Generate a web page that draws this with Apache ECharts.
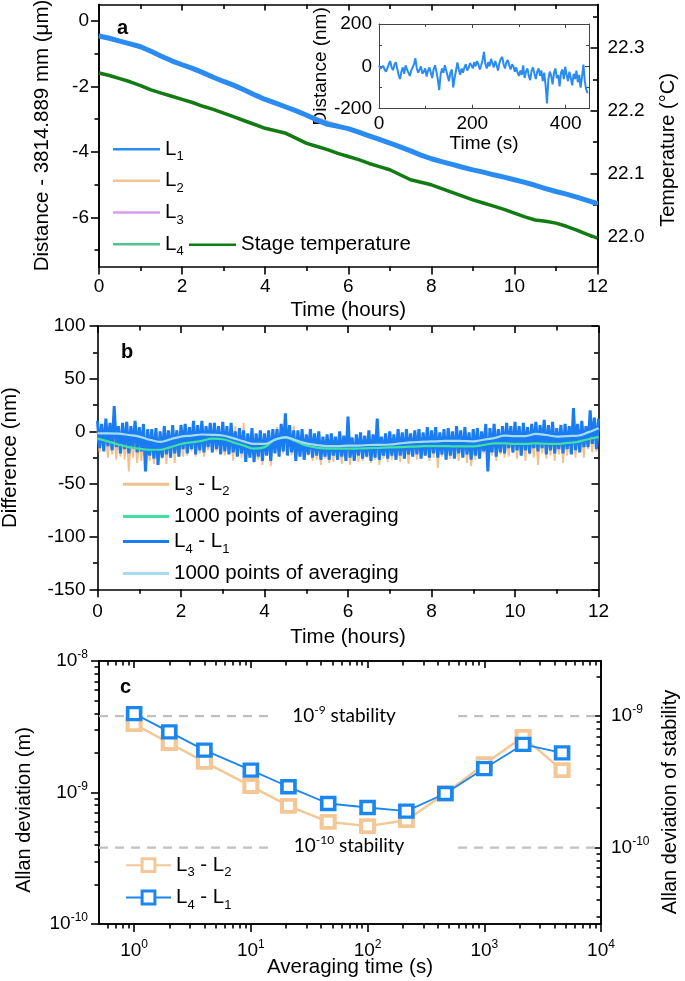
<!DOCTYPE html>
<html><head><meta charset="utf-8">
<script src="https://cdn.jsdelivr.net/npm/echarts@6/dist/echarts.min.js"></script>
<style>html,body{margin:0;padding:0;background:#fff}#c{width:685px;height:981px}</style>
</head><body><div id="c"></div>
<script>
// ---------------- Panel a : drift over 12 h ----------------
const hoursA = [0,0.25,0.5,0.75,1,1.25,1.5,1.75,2,2.25,2.5,2.75,3,3.25,3.5,3.75,4,4.25,4.5,4.75,5,5.25,5.5,5.75,6,6.25,6.5,6.75,7,7.25,7.5,7.75,8,8.25,8.5,8.75,9,9.25,9.5,9.75,10,10.25,10.5,10.75,11,11.25,11.5,11.75,12];
const distL1 = [-0.46,-0.53,-0.62,-0.70,-0.79,-0.93,-1.08,-1.22,-1.34,-1.45,-1.58,-1.72,-1.85,-1.97,-2.11,-2.26,-2.40,-2.51,-2.63,-2.75,-2.88,-3.03,-3.16,-3.22,-3.29,-3.40,-3.51,-3.62,-3.73,-3.85,-3.97,-4.10,-4.21,-4.30,-4.38,-4.47,-4.55,-4.62,-4.70,-4.77,-4.85,-4.93,-5.02,-5.12,-5.21,-5.29,-5.38,-5.48,-5.58];
const stageTemp = [22.260,22.256,22.251,22.246,22.240,22.233,22.228,22.223,22.218,22.213,22.207,22.202,22.196,22.190,22.184,22.178,22.172,22.168,22.164,22.156,22.148,22.143,22.138,22.132,22.127,22.122,22.116,22.111,22.106,22.098,22.090,22.086,22.082,22.076,22.070,22.064,22.058,22.053,22.048,22.043,22.037,22.031,22.026,22.024,22.021,22.016,22.010,22.003,21.997];
const hoursCoarse = [0,1,2,3,4,5,6,7,8,9,10,11,12];
const distL2 = [-0.44,-0.77,-1.32,-1.83,-2.38,-2.86,-3.27,-3.71,-4.19,-4.53,-4.83,-5.19,-5.56];
const distL3 = [-0.46,-0.79,-1.34,-1.85,-2.40,-2.88,-3.29,-3.73,-4.21,-4.55,-4.85,-5.21,-5.58];
const distL4 = [-0.47,-0.80,-1.35,-1.86,-2.41,-2.89,-3.30,-3.74,-4.22,-4.56,-4.86,-5.22,-5.59];
// inset (first seconds, nm)
const insetTime = [0,3,6,9,12,15,18,21,24,27,30,33,36,39,42,45,48,51,54,57,60,63,66,69,72,75,78,81,84,87,90,93,96,99,102,105,108,111,114,117,120,123,126,129,132,135,138,141,144,147,150,153,156,159,162,165,168,171,174,177,180,183,186,189,192,195,198,201,204,207,210,213,216,219,222,225,228,231,234,237,240,243,246,249,252,255,258,261,264,267,270,273,276,279,282,285,288,291,294,297,300,303,306,309,312,315,318,321,324,327,330,333,336,339,342,345,348,351,354,357,360,363,366,369,372,375,378,381,384,387,390,393,396,399,402,405,408,411,414,417,420,423,426,429,432,435,438,441,444,447];
const insetDist = [5,-12,-20,2,-15,-25,-8,10,25,-5,-18,8,20,-10,-40,-60,-25,-5,-35,5,-15,-30,-45,-20,-5,10,38,-10,-30,-15,0,-35,-25,-10,-48,-20,-5,-30,-55,-15,5,-25,-60,-112,-40,-10,-30,5,-20,-45,-70,-30,-15,-100,-55,-20,19,-15,-40,-10,-30,-5,10,-20,-8,15,5,-10,20,0,25,10,-15,5,30,69,10,-10,20,0,35,15,-5,25,5,-20,15,35,45,10,-10,20,30,5,-15,10,0,-25,-5,-30,-45,-20,-40,5,-55,-25,-10,-45,-65,-20,-5,-35,-60,-25,-10,-45,-20,-70,-30,-90,-175,-60,-25,-45,-85,-30,-10,-55,-40,-95,-30,-15,-60,-2,-40,-70,-25,-55,-90,-35,-60,-20,-75,-40,-100,-50,8,-70,-110,-127];

// ---------------- Panel b : differences ----------------
const hoursB = [
0,0.05,0.1,0.15,0.2,0.25,0.3,0.35,0.4,0.45,0.5,0.55,0.6,0.65,0.7,0.75,0.8,0.85,0.9,0.95,
1,1.05,1.1,1.15,1.2,1.25,1.3,1.35,1.4,1.45,1.5,1.55,1.6,1.65,1.7,1.75,1.8,1.85,1.9,1.95,
2,2.05,2.1,2.15,2.2,2.25,2.3,2.35,2.4,2.45,2.5,2.55,2.6,2.65,2.7,2.75,2.8,2.85,2.9,2.95,
3,3.05,3.1,3.15,3.2,3.25,3.3,3.35,3.4,3.45,3.5,3.55,3.6,3.65,3.7,3.75,3.8,3.85,3.9,3.95,
4,4.05,4.1,4.15,4.2,4.25,4.3,4.35,4.4,4.45,4.5,4.55,4.6,4.65,4.7,4.75,4.8,4.85,4.9,4.95,
5,5.05,5.1,5.15,5.2,5.25,5.3,5.35,5.4,5.45,5.5,5.55,5.6,5.65,5.7,5.75,5.8,5.85,5.9,5.95,
6,6.05,6.1,6.15,6.2,6.25,6.3,6.35,6.4,6.45,6.5,6.55,6.6,6.65,6.7,6.75,6.8,6.85,6.9,6.95,
7,7.05,7.1,7.15,7.2,7.25,7.3,7.35,7.4,7.45,7.5,7.55,7.6,7.65,7.7,7.75,7.8,7.85,7.9,7.95,
8,8.05,8.1,8.15,8.2,8.25,8.3,8.35,8.4,8.45,8.5,8.55,8.6,8.65,8.7,8.75,8.8,8.85,8.9,8.95,
9,9.05,9.1,9.15,9.2,9.25,9.3,9.35,9.4,9.45,9.5,9.55,9.6,9.65,9.7,9.75,9.8,9.85,9.9,9.95,
10,10.05,10.1,10.15,10.2,10.25,10.3,10.35,10.4,10.45,10.5,10.55,10.6,10.65,10.7,10.75,10.8,10.85,10.9,10.95,
11,11.05,11.1,11.15,11.2,11.25,11.3,11.35,11.4,11.45,11.5,11.55,11.6,11.65,11.7,11.75,11.8,11.85,11.9,11.95,12];
const diffL3L2 = [
0,-20,3,-17,-2,-25,-1,-22,-4,-27,-2,-24,-6,-27,-3,-38,-10,-25,-6,-30,
-10,-28,-5,-33,-9,-28,-7,-31,-12,-30,-7,-26,-10,-31,-5,-25,-6,-30,-3,-24,
-5,-24,-1,-23,-4,-19,2,-24,-2,-21,3,-24,-2,-18,2,-20,0,-19,5,-16,
-1,-23,2,-20,-3,-28,5,-22,-5,-25,8,-27,-7,-24,-4,-30,-10,-27,-6,-32,
-5,-22,0,-33,-4,-19,4,-16,-1,-21,3,-18,0,-23,5,-21,-3,-24,0,-23,
-8,-23,-4,-28,-7,-27,-4,-32,-8,-26,-6,-30,-11,-29,-7,-26,-10,-31,-5,-28,
-8,-32,-5,-26,-10,-29,-6,-28,-9,-25,-4,-30,-8,-27,-5,-32,-10,-26,-6,-29,
-8,-27,-3,-24,-7,-29,-4,-26,-9,-31,-4,-24,-7,-27,-2,-26,-6,-23,-3,-28,
-8,-25,-4,-35,-7,-24,-2,-27,-6,-26,-3,-23,-8,-28,-4,-25,-7,-30,-2,-33,
-6,-27,-3,-26,-8,-21,-2,-26,-5,-23,0,-28,-4,-22,-1,-25,-6,-24,-2,-21,
-5,-26,0,-23,-4,-28,-1,-22,-6,-25,-2,-32,-5,-21,0,-26,-4,-23,-1,-28,
-6,-22,-2,-30,-5,-23,1,-20,-3,-25,2,-20,-3,-25,1,-17,0,-20,5,-19,3];
const diffL4L1 = [
10,-16,7,-19,12,-14,8,-18,24,-15,5,-21,8,-17,9,-21,5,-16,10,-20,
4,-19,7,-38,2,-23,2,-26,3,-32,0,-25,5,-22,1,-25,6,-21,1,-24,
6,-17,7,-21,4,-17,10,-22,6,-18,10,-20,5,-15,8,-20,8,-17,5,-22,
9,-19,5,-22,8,-20,0,-24,3,-21,1,-29,-2,-25,3,-29,-2,-24,1,-28,
-2,-23,1,-28,2,-21,2,-24,7,-19,17,-23,6,-20,1,-28,1,-24,2,-27,
-3,-22,2,-25,-2,-23,0,-27,-5,-24,-3,-27,-2,-23,-5,-27,0,-24,-4,-28,
14,-25,-6,-28,-3,-23,-1,-26,-4,-24,1,-28,-3,-25,12,-27,-5,-23,-2,-26,
0,-23,-3,-27,2,-23,-1,-26,2,-22,-2,-24,1,-22,2,-26,-1,-23,4,-25,
1,-21,4,-25,-1,-22,2,-27,3,-23,0,-26,5,-21,1,-25,4,-22,-1,-27,
2,-23,3,-26,0,-19,7,-38,3,-20,7,-24,2,-20,5,-21,8,-16,5,-20,
9,-18,5,-23,8,-18,4,-21,7,-16,9,-19,6,-16,11,-22,6,-18,9,-21,
3,-17,6,-21,7,-17,5,-22,22,-18,7,-20,10,-15,5,-15,20,-12,13,-17,12];
const avgL3L2 = [-7,-9.5,-12.5,-15,-16.5,-17.5,-17.5,-15,-12,-10.5,-9,-7,-7.5,-10.5,-13.5,-16.5,-15,-8,-6,-9.5,-13.5,-15.5,-16.5,-16.5,-16.5,-16.3,-16,-15.7,-15.3,-15,-14.5,-14.2,-14,-14,-14.2,-14.3,-14.3,-13,-11.5,-11.5,-12,-12,-11.5,-11.8,-12,-11,-10,-7.5,-5.5];
const avgL4L1 = [-2,-2,-2.2,-3.5,-5,-8,-10,-7.5,-5,-4,-3,-3.3,-4,-6.5,-9.5,-12,-12,-8,-5.5,-8.5,-11.5,-13,-14,-14,-13.5,-13.5,-13,-12.8,-12.5,-11.5,-10.5,-10,-9.5,-9.2,-9,-9.2,-9.5,-8,-6.5,-4,-4.5,-4.5,-2.5,-3.5,-5,-4.5,-4.2,-1,3];

// ---------------- Panel c : Allan deviation ----------------
const tauC = [1,2,4,10,21,46,100,215,464,1000,2150,4640];
const adevL3L2 = [3.31e-9,2.38e-9,1.71e-9,1.12e-9,7.92e-10,5.98e-10,5.55e-10,6.16e-10,9.82e-10,1.64e-9,2.65e-9,1.48e-9];
const adevL4L1 = [3.98e-9,2.89e-9,2.10e-9,1.48e-9,1.105e-9,8.25e-10,7.69e-10,7.21e-10,9.82e-10,1.52e-9,2.32e-9,2.0e-9];
const stabilityLevels = [1e-9, 1e-10];
const stabilityLabels = ['{b|10}{e|-9}{b| stability}', '{b|10}{e|-10}{b| stability}'];
const baseLength = 3.814889; // m, converts deviation to relative stability

// ---------------- styling ----------------
const FONT = '"Liberation Sans", Arial, Helvetica, sans-serif';
const CFONT = 'Lato, "Liberation Sans", sans-serif';
const K = '#000';
const AX = {color: K, width: 1.6};
const LBL = {color: K, fontFamily: FONT, fontSize: 19};
const TITLE = {color: K, fontFamily: FONT, fontSize: 20.5};
const C = {
  L1: '#2a8cf2', L2: '#f3c391', L3: '#d69cf0', L4: '#52c58e', temp: '#137b13',
  bOr: '#f2c08e', bBlue: '#1a7cf0', bGreen: '#3fe0a0', bCyan: '#a4dbf0',
  cOr: '#f4c797', cBlue: '#1a86f0', dash: '#c0c0c0'
};
const zip = (xs, ys) => xs.map((x, i) => [x, ys[i]]);
const RICH_LEG = {
  m: {fontFamily: FONT, fontSize: 20.5, lineHeight: 28, color: K},
  s: {fontFamily: FONT, fontSize: 13, lineHeight: 6, verticalAlign: 'bottom', color: K}
};
const RICH_SUP = {
  b: {fontFamily: FONT, fontSize: 19, lineHeight: 24, color: K},
  e: {fontFamily: FONT, fontSize: 12, lineHeight: 10, verticalAlign: 'top', color: K}
};
const RICH_SUPC = {
  b: {fontFamily: CFONT, fontSize: 19, lineHeight: 24, color: K},
  e: {fontFamily: CFONT, fontSize: 12, lineHeight: 10, verticalAlign: 'top', color: K}
};
function legendText(name) {
  let s = name.slice(name.indexOf(':') + 1);
  if (s.indexOf('#') >= 0) s = s.slice(0, s.indexOf('#'));
  const out = s.split(/(L\d)/).filter(p => p.length).map(p =>
    /^L\d$/.test(p) ? '{m|L}{s|' + p[1] + '}' : '{m|' + p + '}').join('');
  return /L\d/.test(s) ? out : out + '{s| }';
}
function powLabel(v) {
  const e = Math.round(Math.log10(v));
  if (Math.abs(Math.log10(v) - e) > 1e-6) return '';
  return '{b|10}{e|' + e + '}';
}
const decadesX = [1, 10, 100, 1000, 10000];
const minorsX = [0.6,0.7,0.8,0.9,2,3,4,5,6,7,8,9,20,30,40,50,60,70,80,90,200,300,400,500,600,700,800,900,2000,3000,4000,5000,6000,7000,8000,9000];
const decadesY = [1e-10, 1e-9, 1e-8];
const minorsY = [2e-10,3e-10,4e-10,5e-10,6e-10,7e-10,8e-10,9e-10,2e-9,3e-9,4e-9,5e-9,6e-9,7e-9,8e-9,9e-9];
const decadesR = [1e-10, 1e-9];
const minorsR = [3e-11,4e-11,5e-11,6e-11,7e-11,8e-11,9e-11,2e-10,3e-10,4e-10,5e-10,6e-10,7e-10,8e-10,9e-10,2e-9];

function linAxis(o) {
  return Object.assign({
    type: 'value', splitLine: {show: false}, minorSplitLine: {show: false},
    axisLine: {show: true, onZero: false, lineStyle: AX},
    axisTick: {show: true, length: 8, inside: false, lineStyle: AX},
    minorTick: {show: true, splitNumber: 2, length: 4.5, lineStyle: AX},
    axisLabel: Object.assign({show: true, margin: 11}, LBL),
    nameLocation: 'middle', nameTextStyle: TITLE
  }, o);
}
function hidden(o) { // extra tick-only axis drawn on top of the main one
  return Object.assign({
    splitLine: {show: false}, axisLine: {show: true, onZero: false, lineStyle: AX},
    axisLabel: {show: false}, minorTick: {show: false}
  }, o);
}
// one legend component per row so each row sits exactly where the reference has it
function legendRow(name, left, cy, extra) {
  return Object.assign({
    data: [name], orient: 'horizontal', left: left, top: cy - 13,
    itemWidth: 47, itemHeight: 2.5, icon: 'rect', selectedMode: false, padding: 0,
    formatter: legendText, textStyle: {rich: RICH_LEG}
  }, extra || {});
}

const option = {
  animation: false,
  textStyle: {fontFamily: FONT},
  grid: [
    {left: 99, top: 4.5, width: 498.5, height: 262, outerBoundsMode: 'none'},
    {left: 379, top: 24, width: 210, height: 84.7, outerBoundsMode: 'none'},
    {left: 97.5, top: 326, width: 501, height: 263.3, outerBoundsMode: 'none'},
    {left: 99, top: 661, width: 502, height: 263, outerBoundsMode: 'none'}
  ],
  xAxis: [
    linAxis({gridIndex: 0, min: 0, max: 12, interval: 2, name: 'Time (hours)', nameGap: 33}),
    linAxis({gridIndex: 0, position: 'top', min: 0, max: 12, interval: 2, axisLabel: {show: false},
      axisTick: {inside: true, length: 6, lineStyle: AX}}),
    linAxis({gridIndex: 1, min: 0, max: 450, interval: 200, name: 'Time (s)', nameGap: 21,
      axisLine: {onZero: false, lineStyle: {color: '#444', width: 1}},
      axisTick: {inside: true, length: 4, lineStyle: {color: '#444'}},
      minorTick: {show: true, splitNumber: 2, length: 3, lineStyle: {color: '#444'}},
      axisLabel: Object.assign({margin: 6}, LBL), nameTextStyle: LBL}),
    linAxis({gridIndex: 1, position: 'top', min: 0, max: 450, interval: 200, axisLabel: {show: false},
      axisLine: {onZero: false, lineStyle: {color: '#444', width: 1}},
      axisTick: {inside: true, length: 4, lineStyle: {color: '#444'}},
      minorTick: {show: true, splitNumber: 2, length: 3, lineStyle: {color: '#444'}}}),
    linAxis({gridIndex: 2, min: 0, max: 12, interval: 2, name: 'Time (hours)', nameGap: 38,
      axisLabel: Object.assign({margin: 13}, LBL)}),
    linAxis({gridIndex: 2, position: 'top', min: 0, max: 12, interval: 2, axisLabel: {show: false},
      axisTick: {inside: true, length: 7, lineStyle: AX}}),
    // panel c
    {gridIndex: 3, type: 'log', logBase: 10, min: 0.5, max: 10000, position: 'bottom',
      splitLine: {show: false}, axisLine: {show: true, onZero: false, lineStyle: AX},
      axisTick: {show: true, length: 8, customValues: decadesX, lineStyle: AX},
      axisLabel: {show: true, margin: 15, customValues: decadesX, formatter: powLabel, rich: RICH_SUP},
      name: 'Averaging time (s)', nameLocation: 'middle', nameGap: 33, nameMoveOverlap: false, nameTextStyle: TITLE},
    hidden({gridIndex: 3, type: 'log', logBase: 10, min: 0.5, max: 10000, position: 'bottom',
      axisTick: {show: true, length: 4.5, customValues: minorsX, lineStyle: AX}}),
    {gridIndex: 3, type: 'log', logBase: 10, min: 0.5, max: 10000, position: 'top',
      splitLine: {show: false}, axisLine: {show: true, onZero: false, lineStyle: AX},
      axisTick: {show: true, inside: true, length: 7, customValues: decadesX, lineStyle: AX},
      axisLabel: {show: false}},
    hidden({gridIndex: 3, type: 'log', logBase: 10, min: 0.5, max: 10000, position: 'top',
      axisTick: {show: true, inside: true, length: 4.5, customValues: minorsX, lineStyle: AX}})
  ],
  yAxis: [
    // 0,1 panel a left
    linAxis({gridIndex: 0, min: -7.5, max: 0.5, minorTick: {show: false},
      axisTick: {length: 8, customValues: [-6, -4, -2, 0], lineStyle: AX},
      axisLabel: Object.assign({margin: 10, customValues: [-6, -4, -2, 0]}, LBL),
      name: 'Distance - 3814.889 mm (\u03bcm)', nameGap: 46}),
    hidden({gridIndex: 0, type: 'value', min: -7.5, max: 0.5, position: 'left',
      axisTick: {show: true, length: 4.5, customValues: [-7, -5, -3, -1], lineStyle: AX}}),
    // 2,3 panel a right (temperature)
    linAxis({gridIndex: 0, position: 'right', min: 21.952, max: 22.369, minorTick: {show: false},
      axisTick: {inside: true, length: 7, customValues: [22.0, 22.1, 22.2, 22.3], lineStyle: AX},
      axisLabel: Object.assign({margin: 10, customValues: [22.0, 22.1, 22.2, 22.3],
        formatter: v => v.toFixed(1)}, LBL)}),
    hidden({gridIndex: 0, type: 'value', min: 21.952, max: 22.369, position: 'right',
      axisTick: {show: true, inside: true, length: 4.5, customValues: [22.05, 22.15, 22.25, 22.35], lineStyle: AX}}),
    // 4,5 inset
    linAxis({gridIndex: 1, min: -200, max: 200, interval: 200, name: 'Distance (nm)', nameGap: 42,
      axisLine: {onZero: false, lineStyle: {color: '#444', width: 1}},
      axisTick: {inside: true, length: 4, lineStyle: {color: '#444'}},
      minorTick: {show: true, splitNumber: 2, length: 3, lineStyle: {color: '#444'}},
      axisLabel: Object.assign({margin: 7}, LBL), nameTextStyle: LBL}),
    linAxis({gridIndex: 1, position: 'right', min: -200, max: 200, interval: 200, axisLabel: {show: false},
      axisLine: {onZero: false, lineStyle: {color: '#444', width: 1}},
      axisTick: {inside: true, length: 4, lineStyle: {color: '#444'}},
      minorTick: {show: true, splitNumber: 2, length: 3, lineStyle: {color: '#444'}}}),
    // 6,7 panel b
    linAxis({gridIndex: 2, min: -150, max: 100, interval: 50, name: 'Difference (nm)', nameGap: 77,
      axisLabel: Object.assign({margin: 12}, LBL)}),
    linAxis({gridIndex: 2, position: 'right', min: -150, max: 100, interval: 50, axisLabel: {show: false},
      axisTick: {inside: true, length: 7, lineStyle: AX}}),
    // 8,9 panel c left
    {gridIndex: 3, type: 'log', logBase: 10, min: 1e-10, max: 1e-8, position: 'left',
      splitLine: {show: false}, axisLine: {show: true, onZero: false, lineStyle: AX},
      axisTick: {show: true, length: 8, customValues: decadesY, lineStyle: AX},
      axisLabel: {show: true, margin: 11, customValues: decadesY, formatter: powLabel, rich: RICH_SUP}},
    hidden({gridIndex: 3, type: 'log', logBase: 10, min: 1e-10, max: 1e-8, position: 'left',
      axisTick: {show: true, length: 4.5, customValues: minorsY, lineStyle: AX}}),
    // 10,11 panel c right (relative stability)
    {gridIndex: 3, type: 'log', logBase: 10, min: 1e-10 / baseLength, max: 1e-8 / baseLength, position: 'right',
      splitLine: {show: false}, axisLine: {show: true, onZero: false, lineStyle: AX},
      axisTick: {show: true, inside: true, length: 7, customValues: decadesR, lineStyle: AX},
      axisLabel: {show: true, margin: 10, customValues: decadesR, formatter: powLabel, rich: RICH_SUP}},
    hidden({gridIndex: 3, type: 'log', logBase: 10, min: 1e-10 / baseLength, max: 1e-8 / baseLength, position: 'right',
      axisTick: {show: true, inside: true, length: 4.5, customValues: minorsR, lineStyle: AX}})
  ],
  legend: [
    legendRow('a:L1', 113, 151.7),
    legendRow('a:L2', 113, 183.3),
    legendRow('a:L3', 113, 215),
    legendRow('a:L4', 113, 246.7),
    legendRow('a:Stage temperature', 189, 247.2),
    legendRow('b:L3 - L2', 123, 486.7, {itemWidth: 46, itemHeight: 3}),
    legendRow('b:1000 points of averaging#g', 123, 519, {itemWidth: 46, itemHeight: 3}),
    legendRow('b:L4 - L1', 123, 544, {itemWidth: 46, itemHeight: 3}),
    legendRow('b:1000 points of averaging#c', 123, 576, {itemWidth: 46, itemHeight: 3}),
    legendRow('c:L3 - L2', 125, 867.7, {itemWidth: 45, itemHeight: 16, icon: null, itemStyle: {borderWidth: 3}}),
    legendRow('c:L4 - L1', 125, 900, {itemWidth: 45, itemHeight: 16, icon: null, itemStyle: {borderWidth: 3}})
  ],
  series: [
    // panel a
    {name: 'a:L2', type: 'line', xAxisIndex: 0, yAxisIndex: 0, data: zip(hoursCoarse, distL2), color: C.L2,
      symbol: 'none', lineStyle: {color: C.L2, width: 2}, silent: true, z: 2},
    {name: 'a:L3', type: 'line', xAxisIndex: 0, yAxisIndex: 0, data: zip(hoursCoarse, distL3), color: C.L3,
      symbol: 'none', lineStyle: {color: C.L3, width: 2}, silent: true, z: 2},
    {name: 'a:L4', type: 'line', xAxisIndex: 0, yAxisIndex: 0, data: zip(hoursCoarse, distL4), color: C.L4,
      symbol: 'none', lineStyle: {color: C.L4, width: 2}, silent: true, z: 2},
    {name: 'a:L1', type: 'line', xAxisIndex: 0, yAxisIndex: 0, data: zip(hoursA, distL1), color: C.L1,
      symbol: 'none', lineStyle: {color: C.L1, width: 5}, silent: true, z: 3},
    {name: 'a:Stage temperature', type: 'line', xAxisIndex: 0, yAxisIndex: 2, data: zip(hoursA, stageTemp), color: C.temp,
      symbol: 'none', lineStyle: {color: C.temp, width: 3.5}, silent: true, z: 3},
    {name: 'inset:L1', type: 'line', xAxisIndex: 2, yAxisIndex: 4, data: zip(insetTime, insetDist), color: C.L1,
      symbol: 'none', lineStyle: {color: C.L1, width: 2}, silent: true, z: 3},
    // panel b
    {name: 'b:L3 - L2', type: 'line', xAxisIndex: 4, yAxisIndex: 6, data: zip(hoursB, diffL3L2), color: C.bOr,
      symbol: 'none', lineStyle: {color: C.bOr, width: 1.8}, silent: true, z: 2},
    {name: 'b:L4 - L1', type: 'line', xAxisIndex: 4, yAxisIndex: 6, data: zip(hoursB, diffL4L1), color: C.bBlue,
      symbol: 'none', lineStyle: {color: C.bBlue, width: 3}, silent: true, z: 3},
    {name: 'b:1000 points of averaging#g', type: 'line', xAxisIndex: 4, yAxisIndex: 6, data: zip(hoursA, avgL3L2), color: C.bGreen,
      symbol: 'none', smooth: 0.4, lineStyle: {color: C.bGreen, width: 2.2}, silent: true, z: 4},
    {name: 'b:1000 points of averaging#c', type: 'line', xAxisIndex: 4, yAxisIndex: 6, data: zip(hoursA, avgL4L1), color: C.bCyan,
      symbol: 'none', smooth: 0.4, lineStyle: {color: C.bCyan, width: 2.2}, silent: true, z: 4},
    // panel c
    {name: 'stability', type: 'line', xAxisIndex: 6, yAxisIndex: 10, symbol: 'none', silent: true, z: 1,
      lineStyle: {color: C.dash, width: 2.2, type: [9, 7]},
      data: stabilityLevels.flatMap(L => [[0.5, L], [15.2, L], [100, '-'], [597, L], [10000, L], [10000, '-']])},
    {name: 'c:L3 - L2', type: 'line', xAxisIndex: 6, yAxisIndex: 8, data: zip(tauC, adevL3L2), color: C.cOr,
      symbol: 'rect', symbolSize: [13, 12], showSymbol: true,
      itemStyle: {color: '#fff', borderColor: C.cOr, borderWidth: 4},
      lineStyle: {color: C.cOr, width: 2.5}, silent: true, z: 3},
    {name: 'c:L4 - L1', type: 'line', xAxisIndex: 6, yAxisIndex: 8, data: zip(tauC, adevL4L1), color: C.cBlue,
      symbol: 'rect', symbolSize: [13, 12], showSymbol: true,
      itemStyle: {color: '#fff', borderColor: C.cBlue, borderWidth: 3.5},
      lineStyle: {color: C.cBlue, width: 1.8}, silent: true, z: 4}
  ],
  graphic: [
    {type: 'text', left: 117, top: 18, z: 10, style: {text: 'a', font: 'bold 20px ' + FONT, fill: K}},
    {type: 'text', left: 121, top: 342, z: 10, style: {text: 'b', font: 'bold 20px ' + FONT, fill: K}},
    {type: 'text', left: 120, top: 677, z: 10, style: {text: 'c', font: 'bold 20px ' + FONT, fill: K}},
    {type: 'text', x: 668, y: 150, rotation: Math.PI / 2, z: 10,
      style: {text: 'Temperature (\u00b0C)', font: '20px ' + FONT, fill: K, align: 'center', verticalAlign: 'middle'}},
    {type: 'text', x: 24, y: 810, rotation: Math.PI / 2, z: 10,
      style: {text: 'Allan deviation (m)', font: '20px ' + FONT, fill: K, align: 'center', verticalAlign: 'middle'}},
    {type: 'text', x: 670, y: 802, rotation: Math.PI / 2, z: 10,
      style: {text: 'Allan deviation of stability', font: '20px ' + FONT, fill: K, align: 'center', verticalAlign: 'middle'}},
    {type: 'text', x: 344, y: 716, z: 10,
      style: {text: stabilityLabels[0], rich: RICH_SUPC, align: 'center', verticalAlign: 'middle'}},
    {type: 'text', x: 349, y: 846, z: 10,
      style: {text: stabilityLabels[1], rich: RICH_SUPC, align: 'center', verticalAlign: 'middle'}}
  ]
};
const chart = echarts.init(document.getElementById('c'), null, {renderer: 'canvas', width: 685, height: 981});
chart.setOption(option);
</script></body></html>
